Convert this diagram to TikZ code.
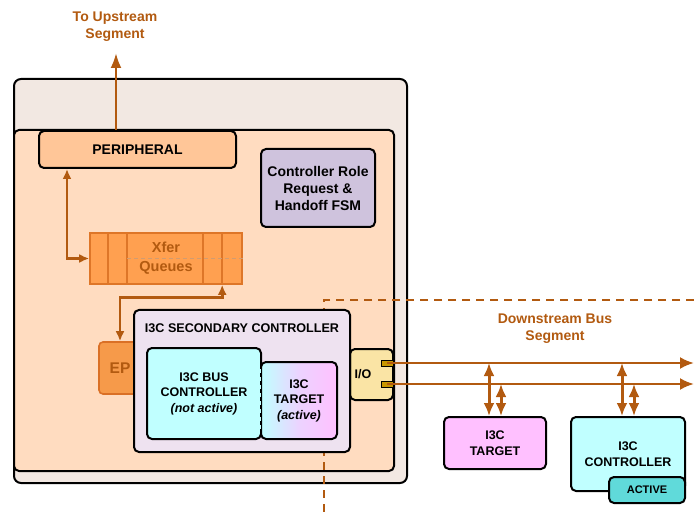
\documentclass[tikz,border=0pt]{standalone}
\usepackage{fontspec}
\setmainfont{Liberation Sans}
\usetikzlibrary{arrows.meta}

\definecolor{brn}{RGB}{178,90,16}
\definecolor{chipbg}{RGB}{242,232,226}
\definecolor{corebg}{RGB}{255,220,192}
\definecolor{periphbg}{RGB}{255,198,152}
\definecolor{fsmbg}{RGB}{207,195,221}
\definecolor{qbg}{RGB}{255,160,80}
\definecolor{qedge}{RGB}{222,118,40}
\definecolor{epbg}{RGB}{246,154,74}
\definecolor{epedge}{RGB}{218,112,38}
\definecolor{secbg}{RGB}{238,226,240}
\definecolor{cyanl}{RGB}{192,255,255}
\definecolor{pinkl}{RGB}{255,192,255}
\definecolor{iobg}{RGB}{250,228,165}
\definecolor{pinbg}{RGB}{200,150,0}
\definecolor{activebg}{RGB}{96,218,218}

\begin{document}
\begin{tikzpicture}[x=1pt,y=-1pt,
    blk/.style={draw, line width=2pt, rounded corners=5pt, inner sep=0pt, align=center},
    big/.style={font=\bfseries\fontsize{14}{17}\selectfont},
    small/.style={font=\bfseries\fontsize{12.5}{15.5}\selectfont},
    link/.style={brn, line width=3pt, {Latex[length=13pt,width=11pt]}-{Latex[length=13pt,width=11pt]}},
    qlink/.style={brn, line width=2.8pt, {Latex[length=10pt,width=9pt]}-{Latex[length=10pt,width=9pt]}},
    bus/.style={brn, line width=2.4pt, -{Latex[length=14pt,width=12pt]}},
  ]
  \useasboundingbox (0,0) rectangle (694,513);

  % Chip and its core
  \node[blk, fill=chipbg, rounded corners=7pt, minimum width=393pt, minimum height=404pt] (chip) at (210.5,281) {};
  \node[blk, fill=corebg, minimum width=380pt, minimum height=341pt] (core) at (204,300.5) {};

  % Segment boundary
  \draw[brn, line width=1.4pt, dash pattern=on 8pt off 6pt] (694,300) -| (324,513);

  % Upstream side
  \node[blk, big, fill=periphbg, minimum width=197pt, minimum height=37pt] (periph) at (137.5,149.5) {PERIPHERAL};
  \node[big, text=brn, align=center] (uptxt) at (115,27) {To Upstream\\Segment};
  \coordinate (up) at (116,53);
  \draw[brn, line width=2.6pt, -{Latex[length=15pt,width=11pt]}] (periph.north -| up) -- (up);

  \node[blk, big, fill=fsmbg, minimum width=114pt, minimum height=78pt] (fsm) at (318,188) {Controller Role\\Request \&\\Handoff FSM};

  % Transfer queues
  \node[draw=qedge, fill=qbg, line width=1.6pt, inner sep=0pt, align=center, text=brn,
        font=\bfseries\fontsize{14.5}{19}\selectfont, minimum width=152pt, minimum height=51pt] (queues) at (166,258.5) {Xfer\\Queues};
  \foreach \dx in {19,38,114,133}
    \draw[qedge, line width=1.6pt] ([xshift=\dx pt]queues.north west) -- ([xshift=\dx pt]queues.south west);
  \draw[brn!60, line width=1pt, dash pattern=on 4pt off 3pt] ([xshift=38pt]queues.west) -- (queues.east);

  \draw[qlink] ([xshift=29pt]periph.south west) |- (queues.west);

  % Endpoint and secondary controller
  \node[draw=epedge, fill=epbg, line width=1.6pt, rounded corners=4pt, inner sep=0pt, text=brn,
        font=\bfseries\fontsize{15.5}{18}\selectfont, minimum width=42pt, minimum height=52pt] (ep) at (120,368) {EP};
  \draw[qlink] ([xshift=133pt]queues.south west) -- ++(0,13) -| (ep.north);

  \node[blk, fill=iobg, minimum width=43pt, minimum height=51pt] (io) at (371.5,374.5) {};
  \node[small] (iolbl) at (363,374) {I/O};
  \node[draw, line width=1pt, fill=pinbg, inner sep=0pt, minimum width=12pt, minimum height=6pt] (pina) at (387,363) {};
  \node[draw, line width=1pt, fill=pinbg, inner sep=0pt, minimum width=12pt, minimum height=6pt] (pinb) at (387,384) {};

  \node[blk, fill=secbg, minimum width=216pt, minimum height=142pt] (sec) at (242,381) {};
  \node[font=\bfseries\fontsize{12.6}{15}\selectfont] (secname) at (242,328.5) {I3C SECONDARY CONTROLLER};

  \node[blk, small, fill=cyanl, minimum width=114pt, minimum height=91pt] (busctl) at (204,393.5) {I3C BUS\\CONTROLLER\\\textit{(not active)}};
  \node[blk, small, left color=cyanl, right color=pinkl, middle color=pinkl!70!cyanl, minimum width=76pt, minimum height=77pt] (tgt) at (299,400.5) {I3C\\TARGET\\\textit{(active)}};
  \draw[cyanl, line width=2pt, dash pattern=on 4pt off 4pt] ([yshift=-8pt]tgt.north west) -- ([yshift=8pt]tgt.south west);

  % Downstream bus
  \coordinate (busa) at (694,363);
  \coordinate (busb) at (694,384);
  \draw[bus] (pina.center) -- (busa);
  \draw[bus] (pinb.center) -- (busb);
  \node[big, text=brn, align=center] (downtxt) at (555,328.5) {Downstream Bus\\Segment};

  \node[blk, small, fill=pinkl, minimum width=102pt, minimum height=52pt] (dtgt) at (495,443) {I3C\\TARGET};
  \node[blk, small, fill=cyanl, minimum width=114pt, minimum height=74pt] (dctl) at (628,454) {I3C\\CONTROLLER};
  \node[blk, fill=activebg, font=\bfseries\fontsize{11}{13}\selectfont, minimum width=76pt, minimum height=26pt] (act) at (647,490) {ACTIVE};

  % Taps onto the bus
  \foreach \x/\y/\n in {489/363/dtgt, 501/384/dtgt, 622/363/dctl, 634/384/dctl}
  {
    \coordinate (tap) at (\x,\y);
    \draw[link] (tap) -- (tap |- \n.north);
  }
\end{tikzpicture}
\end{document}
